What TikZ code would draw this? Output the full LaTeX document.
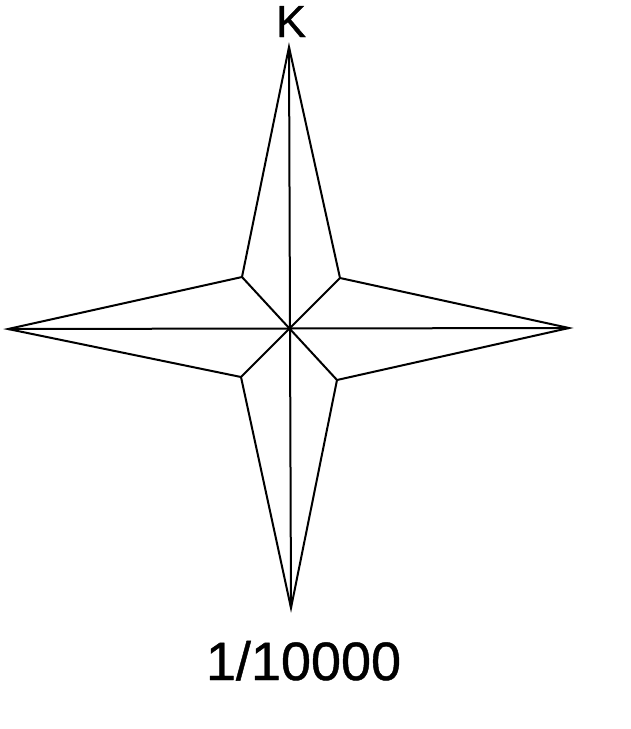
\documentclass[tikz,border=0pt]{standalone}
\usepackage{fontspec}
\setmainfont{Liberation Sans}
\newfontfamily\lblfont[FakeBold=0.8]{Liberation Sans}
\begin{document}
\begin{tikzpicture}[x=1pt,y=-1pt,
  starline/.style={line width=2pt,line join=miter,black},
  lbl/.style={inner sep=0pt,anchor=base}]
\useasboundingbox (0,0) rectangle (630,729);
\coordinate (c) at (290,328);
\coordinate (n) at (289,47);
\coordinate (s) at (291,608);
\coordinate (w) at (8,329);
\coordinate (e) at (569,328);
\coordinate (nw) at (242,277);
\coordinate (ne) at (340,278);
\coordinate (se) at (337,380);
\coordinate (sw) at (241,377);
\draw[starline] (n) -- (ne) -- (e) -- (se) -- (s) -- (sw) -- (w) -- (nw) -- cycle;
\draw[starline] (n) -- (s);
\draw[starline] (w) -- (e);
\draw[starline] (nw) -- (se);
\draw[starline] (ne) -- (sw);
\node[lbl,font=\lblfont\fontsize{45}{54}\selectfont] (k) at (291,37) {K};
\node[lbl,font=\lblfont\fontsize{54}{64}\selectfont] (scale) at (303.5,680) {1/10000};
\end{tikzpicture}
\end{document}
